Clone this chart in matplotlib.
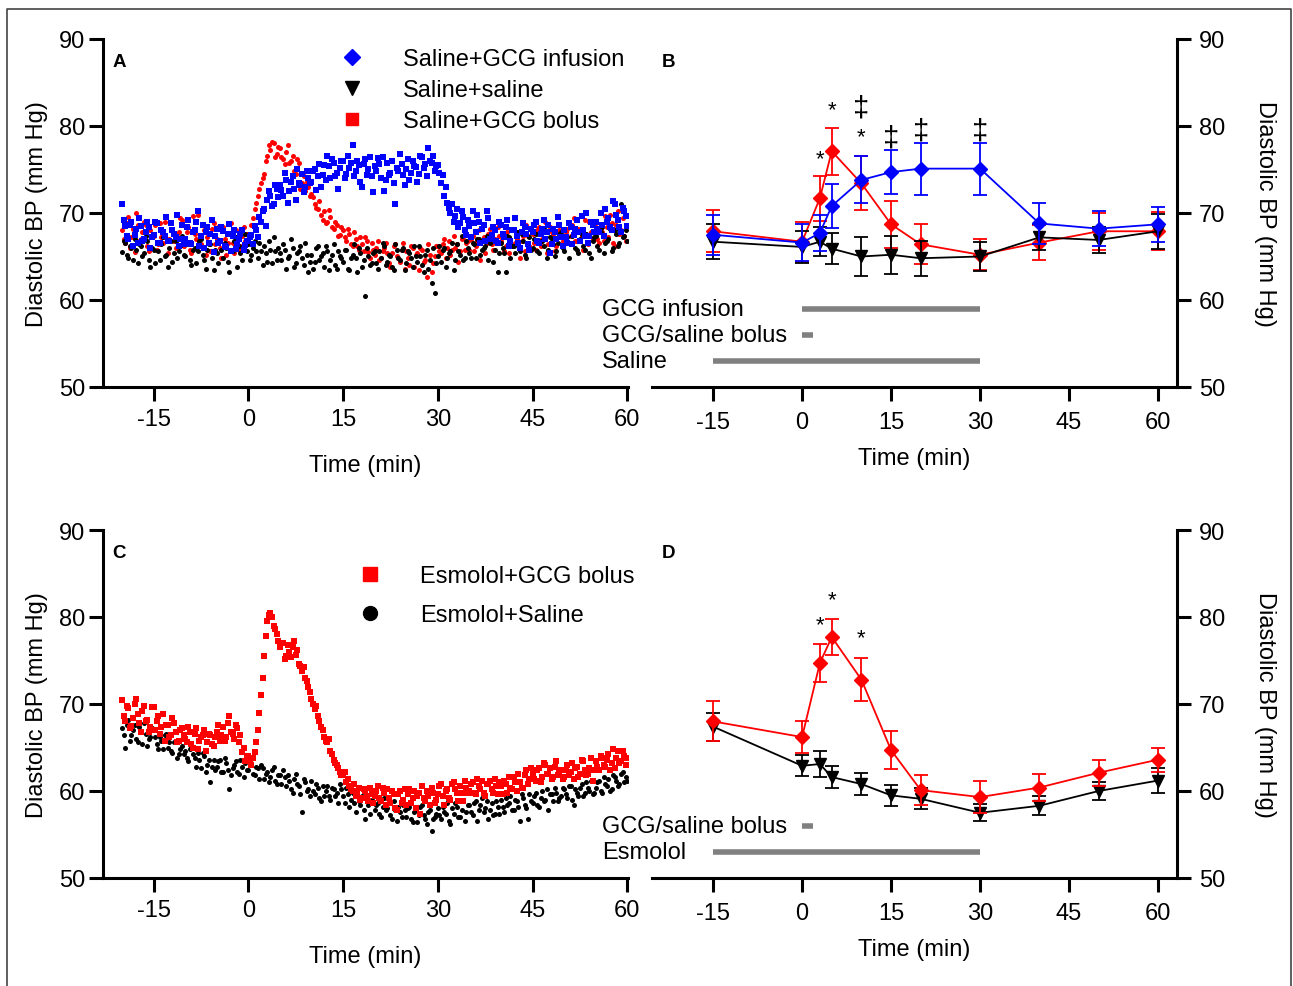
import numpy as np
import matplotlib
matplotlib.use("Agg")
import matplotlib.pyplot as plt
from matplotlib.lines import Line2D

plt.rcParams['font.family'] = ['Liberation Sans', 'DejaVu Sans']
plt.rcParams['axes.unicode_minus'] = False

# ---- continuous recordings: readings on the half minute (-20..60) and in between (-19.75..59.75) ----
t_scan = np.arange(-20, 60.25, 0.5)
t_scan2 = np.arange(-19.75, 60, 0.5)

# Panel A
a_gcg_infusion = [
    71.0, 68.5, 67.0, 69.0, 67.5, 66.5, 68.5, 67.0, 69.0, 66.0,
    67.5, 68.8, 66.5, 67.8, 69.5, 66.8, 68.0, 67.2, 66.2, 68.6,
    67.0, 69.2, 66.4, 68.1, 70.2, 67.3, 66.0, 68.4, 67.6, 65.5,
    68.2, 66.8, 67.9, 66.1, 68.7, 67.4, 65.9, 67.0, 68.0, 66.3,
    66.8, 67.5, 68.5, 67.2, 69.0, 70.5, 71.5, 72.0, 71.0, 72.8,
    73.2, 72.0, 73.8, 72.5, 74.2, 71.5, 73.5, 74.5, 73.0, 74.0,
    73.6, 75.0, 74.2, 73.0, 75.5, 76.5, 74.0, 75.8, 74.6, 75.2,
    76.0, 74.5, 75.2, 77.8, 74.8, 75.5, 73.0, 76.2, 75.0, 74.3,
    75.4, 76.3, 74.0, 72.5, 75.8, 74.6, 73.5, 75.2, 76.8, 74.4,
    75.0, 73.8, 76.0, 75.3, 74.5, 76.4, 75.6, 77.5, 75.8, 74.8,
    75.5, 73.5, 72.0, 71.2, 70.0, 69.0, 70.5, 68.8, 69.5, 67.5,
    68.5, 70.2, 67.8, 69.0, 68.2, 66.8, 69.4, 67.5, 68.0, 66.5,
    68.6, 67.2, 69.2, 66.8, 68.0, 67.4, 66.0, 68.8, 67.6, 65.8,
    67.8, 69.0, 66.5, 68.2, 67.0, 68.6, 66.4, 67.8, 69.5, 67.2,
    68.0, 66.6, 68.4, 67.5, 69.2, 66.8, 68.0, 70.0, 67.4, 68.6,
    69.0, 67.8, 68.6, 70.5, 69.4, 68.0, 71.0, 69.2, 67.8, 70.2,
    68.5]
a_gcg_infusion2 = [
    69.2, 67.4, 68.6, 66.2, 68.2, 69.4, 66.8, 67.8, 68.4, 67.2,
    69.0, 66.6, 68.0, 67.4, 66.8, 68.8, 67.6, 69.8, 67.0, 66.4,
    68.4, 66.6, 67.8, 69.0, 66.2, 68.6, 67.8, 66.6, 69.2, 67.4,
    66.6, 68.4, 66.2, 67.6, 65.6, 68.0, 66.4, 67.6, 65.8, 66.8,
    67.2, 66.4, 68.0, 69.5, 70.2, 68.5, 72.5, 70.8, 73.2, 71.8,
    72.6, 74.6, 71.2, 73.6, 72.8, 75.0, 73.2, 72.4, 74.8, 73.4,
    74.8, 72.6, 75.6, 74.4, 73.8, 75.4, 76.2, 74.2, 72.8, 76.0,
    74.0, 76.6, 75.8, 74.2, 76.0, 73.6, 75.6, 74.4, 76.4, 72.4,
    74.8, 75.6, 76.4, 73.8, 74.4, 76.0, 71.0, 74.8, 75.6, 73.2,
    76.2, 74.6, 75.4, 73.6, 76.6, 75.2, 74.2, 76.0, 76.6, 75.4,
    74.6, 74.4, 73.0, 70.6, 71.0, 69.6, 68.4, 70.2, 68.0, 69.2,
    67.2, 68.8, 69.8, 66.6, 68.6, 70.2, 67.0, 68.4, 66.8, 69.0,
    67.6, 68.4, 66.2, 68.0, 69.4, 66.6, 67.8, 68.4, 66.4, 68.2,
    68.6, 66.8, 67.6, 69.2, 67.8, 65.4, 68.2, 67.0, 68.6, 66.2,
    67.2, 68.8, 66.4, 68.2, 67.8, 69.6, 67.4, 66.6, 69.0, 67.8,
    68.2, 70.0, 67.4, 69.0, 68.4, 71.4, 69.8, 68.4, 70.6, 69.6]

a_gcg_bolus = [
    68.0, 66.5, 69.5, 67.2, 65.5, 68.6, 67.0, 69.0, 66.2, 68.0,
    67.4, 65.8, 68.8, 66.6, 69.6, 67.0, 68.2, 66.0, 67.8, 69.2,
    66.8, 68.4, 65.4, 67.6, 69.8, 66.4, 68.0, 67.2, 65.6, 68.8,
    67.0, 66.0, 68.4, 65.2, 67.6, 66.6, 68.0, 65.8, 67.4, 66.8,
    67.5, 68.6, 70.5, 72.0, 73.5, 74.5, 76.5, 77.2, 78.0, 76.8,
    77.5, 76.2, 77.0, 75.8, 76.5, 74.5, 75.8, 73.5, 72.5, 73.0,
    72.2, 71.0, 70.5, 69.8, 70.2, 69.0, 69.5, 68.2, 68.6, 67.5,
    68.0, 66.8, 67.6, 66.2, 67.0, 65.8, 66.4, 67.2, 65.5, 66.6,
    65.2, 66.8, 64.8, 66.0, 65.4, 63.8, 66.2, 65.0, 64.4, 66.6,
    65.6, 64.0, 66.0, 65.2, 63.5, 65.8, 64.6, 66.4, 63.2, 65.0,
    66.2, 65.4, 67.0, 66.0, 65.2, 67.4, 66.4, 65.6, 67.2, 66.6,
    65.8, 67.4, 66.2, 68.0, 66.8, 65.4, 67.6, 66.4, 67.0, 68.4,
    66.8, 65.6, 67.8, 66.4, 68.2, 67.0, 64.8, 67.4, 68.6, 66.2,
    67.6, 65.8, 68.4, 67.0, 69.0, 66.4, 67.8, 65.6, 68.6, 67.2,
    66.4, 68.2, 67.4, 69.4, 66.8, 68.0, 65.8, 67.6, 69.0, 67.0,
    68.4, 66.6, 67.8, 69.6, 67.2, 68.8, 66.2, 70.2, 68.0, 67.4,
    68.6]
a_gcg_bolus2 = [
    67.0, 68.8, 66.0, 68.2, 70.0, 66.8, 67.8, 68.6, 65.6, 67.4,
    68.6, 66.4, 67.2, 69.0, 65.4, 68.2, 66.8, 67.6, 69.4, 66.2,
    67.8, 65.8, 69.6, 67.0, 66.6, 68.6, 65.2, 67.6, 68.2, 66.4,
    68.4, 64.8, 67.0, 66.6, 68.8, 65.4, 67.2, 66.2, 68.4, 67.6,
    66.6, 69.4, 71.2, 72.8, 74.0, 76.0, 77.8, 78.2, 76.4, 77.6,
    76.4, 75.6, 77.8, 76.0, 74.8, 76.2, 72.8, 74.2, 73.6, 72.0,
    71.8, 70.6, 71.4, 69.2, 68.8, 70.4, 68.4, 69.0, 67.4, 68.4,
    67.2, 68.2, 66.4, 67.8, 66.2, 67.2, 65.6, 66.8, 64.8, 65.8,
    66.0, 64.6, 65.6, 66.6, 64.2, 65.4, 66.4, 64.8, 65.8, 63.6,
    64.8, 66.2, 63.8, 65.4, 66.0, 64.4, 62.6, 65.2, 64.2, 66.2,
    65.6, 66.4, 64.8, 66.8, 65.8, 66.0, 64.4, 67.0, 65.8, 66.8,
    67.0, 65.6, 66.8, 64.6, 67.2, 66.6, 68.2, 65.8, 66.8, 67.4,
    67.6, 66.2, 65.4, 68.0, 66.6, 67.8, 66.8, 65.6, 67.4, 68.2,
    66.6, 68.0, 66.2, 67.8, 65.4, 68.4, 67.6, 66.2, 68.0, 66.8,
    67.8, 66.6, 68.6, 66.8, 68.2, 67.4, 69.2, 66.4, 67.8, 68.6,
    67.0, 68.2, 66.8, 68.4, 69.8, 66.6, 68.6, 67.6, 69.4, 66.8]

a_saline = [
    65.5, 66.5, 64.8, 66.0, 67.0, 64.2, 66.2, 65.4, 66.8, 63.8,
    65.8, 66.6, 64.6, 67.2, 65.2, 66.0, 64.4, 66.8, 65.6, 67.4,
    65.0, 66.4, 64.0, 66.0, 65.6, 67.0, 64.6, 65.8, 66.4, 63.4,
    65.4, 66.8, 64.8, 66.0, 63.2, 65.6, 67.2, 66.2, 64.6, 67.6,
    66.4, 65.2, 66.8, 64.8, 65.6, 66.2, 64.4, 65.8, 67.2, 64.6,
    65.4, 66.4, 63.6, 65.0, 66.0, 64.2, 65.6, 64.8, 66.6, 63.2,
    65.2, 64.4, 66.2, 65.0, 63.8, 65.6, 64.6, 66.4, 63.6, 65.0,
    64.4, 65.8, 63.4, 65.2, 64.8, 66.0, 63.8, 60.5, 65.0, 64.2,
    65.6, 63.6, 64.8, 66.2, 64.4, 65.0, 63.4, 65.8, 64.6, 66.0,
    64.2, 65.4, 63.8, 65.0, 66.2, 64.0, 65.2, 63.6, 62.0, 60.8,
    65.0, 64.4, 66.0, 64.8, 65.6, 63.4, 66.4, 65.2, 64.6, 66.8,
    65.4, 66.6, 64.8, 67.0, 65.8, 66.2, 64.6, 67.2, 65.8, 63.2,
    66.6, 65.4, 67.4, 64.8, 66.2, 67.8, 65.6, 66.8, 64.8, 67.2,
    66.0, 67.6, 65.4, 66.8, 68.0, 65.8, 67.0, 65.0, 66.6, 67.8,
    65.6, 67.2, 66.4, 68.2, 65.8, 67.0, 66.2, 67.6, 65.4, 66.8,
    67.4, 65.8, 68.4, 66.6, 67.0, 65.6, 68.0, 66.2, 71.0, 67.4,
    66.8]
a_saline2 = [
    66.8, 65.2, 66.2, 64.6, 65.8, 66.4, 65.0, 67.4, 64.6, 66.0,
    64.2, 65.6, 66.4, 65.0, 63.8, 66.8, 65.4, 64.8, 66.2, 65.2,
    66.6, 64.6, 65.8, 64.2, 66.8, 65.2, 63.6, 66.4, 64.8, 65.8,
    64.2, 65.8, 66.6, 64.4, 65.8, 66.8, 63.8, 65.4, 66.4, 65.6,
    64.6, 66.0, 65.6, 66.6, 64.0, 65.4, 66.8, 64.2, 65.6, 66.0,
    64.6, 65.8, 64.8, 67.0, 63.8, 65.4, 66.2, 64.0, 65.2, 64.4,
    63.6, 66.0, 64.6, 65.4, 66.2, 63.4, 65.2, 64.0, 65.6, 64.8,
    65.8, 63.6, 64.8, 66.4, 63.2, 65.4, 64.6, 66.0, 64.0, 65.4,
    64.2, 65.6, 66.6, 64.0, 65.2, 63.8, 66.4, 64.8, 65.8, 63.4,
    65.6, 64.8, 66.2, 64.4, 65.0, 63.2, 65.8, 64.6, 66.0, 64.2,
    66.2, 65.8, 63.8, 65.4, 66.6, 64.6, 65.6, 67.4, 64.8, 66.0,
    64.8, 66.4, 67.0, 65.2, 66.0, 67.4, 66.6, 64.4, 66.8, 65.4,
    66.0, 63.2, 67.2, 66.2, 65.4, 66.6, 67.6, 65.2, 66.4, 65.8,
    67.0, 65.6, 66.8, 66.2, 64.8, 67.2, 66.4, 65.6, 67.6, 66.0,
    66.6, 64.8, 67.4, 66.0, 65.4, 67.6, 65.8, 66.6, 64.8, 67.2,
    66.2, 67.8, 65.4, 66.8, 68.2, 66.0, 67.6, 66.6, 67.2, 68.0]

# Panel C
c_gcg_bolus = [
    70.5, 68.0, 69.5, 67.5, 70.0, 68.8, 66.8, 69.8, 68.2, 67.4,
    69.6, 68.0, 66.6, 68.8, 67.6, 66.2, 68.4, 66.8, 65.8, 67.2,
    66.0, 67.4, 65.4, 66.6, 64.8, 66.2, 67.0, 65.6, 66.4, 65.2,
    66.8, 65.8, 67.4, 66.2, 68.6, 66.6, 67.6, 65.6, 64.5, 63.5,
    64.0, 63.0, 64.5, 67.0, 71.0, 75.5, 79.5, 80.5, 79.0, 78.0,
    76.5, 77.0, 75.5, 76.0, 76.6, 75.6, 74.6, 73.8, 73.0, 72.0,
    70.6, 69.4, 68.6, 67.4, 66.2, 65.6, 64.6, 63.6, 63.0, 62.2,
    61.8, 61.0, 60.6, 60.0, 59.4, 60.4, 59.2, 60.0, 58.8, 59.6,
    59.4, 60.6, 58.8, 59.8, 60.2, 58.6, 59.6, 57.8, 60.0, 59.0,
    58.4, 60.2, 59.2, 58.0, 59.8, 60.6, 58.8, 59.4, 60.4, 58.6,
    59.6, 60.8, 58.4, 60.2, 59.0, 61.0, 59.8, 60.6, 58.8, 60.4,
    60.0, 61.0, 59.6, 60.6, 61.2, 59.4, 60.8, 60.2, 61.4, 59.6,
    60.6, 61.2, 59.8, 60.4, 61.6, 60.0, 61.0, 60.4, 62.4, 61.4,
    62.0, 61.2, 62.6, 61.6, 63.0, 62.0, 61.4, 62.8, 61.8, 62.4,
    61.6, 63.0, 62.2, 61.4, 62.8, 62.0, 63.4, 61.8, 62.6, 61.2,
    63.4, 62.4, 63.8, 62.8, 64.2, 63.2, 62.6, 64.6, 63.4, 64.0,
    63.8]
c_gcg_bolus2 = [
    68.6, 69.8, 67.2, 68.4, 70.6, 67.8, 69.2, 68.0, 66.8, 69.6,
    67.0, 68.6, 67.4, 65.8, 67.6, 66.4, 67.8, 65.6, 67.0, 66.4,
    65.6, 66.8, 65.0, 67.2, 65.8, 66.4, 64.6, 66.6, 65.4, 66.2,
    67.6, 66.4, 65.8, 67.8, 66.8, 66.0, 67.2, 66.4, 65.0, 64.0,
    63.4, 63.8, 65.6, 69.0, 73.0, 77.8, 80.2, 80.0, 78.6, 77.2,
    77.0, 75.2, 76.8, 75.4, 77.2, 76.2, 74.4, 74.2, 72.6, 71.4,
    70.0, 69.8, 68.0, 67.0, 65.8, 66.0, 64.2, 63.2, 62.6, 61.8,
    62.2, 61.4, 60.2, 60.8, 59.8, 59.0, 60.2, 59.4, 60.4, 58.6,
    60.0, 59.2, 60.4, 58.4, 59.2, 60.0, 58.0, 59.6, 58.6, 60.2,
    59.6, 58.6, 60.0, 59.4, 57.4, 59.2, 60.0, 58.4, 59.8, 59.0,
    60.6, 59.4, 60.0, 59.2, 60.8, 60.2, 58.8, 59.8, 61.2, 59.8,
    60.8, 59.8, 61.4, 60.2, 59.8, 60.8, 61.2, 59.8, 60.6, 61.0,
    59.6, 60.8, 61.6, 60.2, 61.0, 62.0, 60.4, 61.8, 60.8, 62.6,
    61.4, 62.4, 61.0, 63.2, 62.0, 62.6, 61.6, 63.4, 62.2, 61.4,
    62.4, 61.8, 63.2, 62.6, 61.6, 63.6, 62.4, 62.0, 63.8, 62.4,
    62.8, 64.0, 63.0, 63.6, 62.4, 64.8, 63.8, 63.2, 64.6, 63.0]

c_saline = [
    67.2, 65.0, 68.2, 66.4, 67.6, 65.6, 66.8, 67.8, 65.2, 66.2,
    67.0, 65.4, 66.2, 64.8, 66.6, 65.6, 64.4, 65.8, 64.2, 65.2,
    64.6, 63.4, 65.0, 63.8, 64.4, 62.6, 64.0, 63.0, 61.0, 63.6,
    62.8, 63.6, 62.2, 63.2, 60.2, 62.6, 63.4, 62.0, 62.8, 63.2,
    62.4, 63.2, 61.8, 62.6, 63.0, 61.4, 62.2, 61.6, 62.8, 60.8,
    61.8, 62.4, 60.6, 61.2, 59.8, 62.0, 60.6, 57.6, 61.0, 60.2,
    61.2, 59.6, 60.4, 58.8, 59.4, 60.6, 59.0, 60.2, 59.8, 60.8,
    59.4, 60.4, 58.2, 59.8, 57.6, 58.8, 59.4, 56.8, 58.4, 59.0,
    57.8, 58.6, 57.0, 59.2, 58.0, 57.2, 58.8, 56.6, 57.6, 58.4,
    57.0, 58.2, 56.4, 57.8, 57.2, 58.4, 56.8, 57.6, 55.4, 57.0,
    58.0, 56.8, 57.6, 58.6, 56.2, 57.4, 58.2, 57.0, 58.8, 57.6,
    58.4, 57.2, 58.8, 57.8, 59.2, 58.0, 56.8, 58.6, 57.4, 58.2,
    59.0, 57.6, 58.4, 59.4, 57.8, 58.8, 56.6, 59.2, 58.0, 59.6,
    58.6, 59.8, 58.2, 60.0, 59.0, 57.8, 59.6, 60.4, 58.8, 59.4,
    60.2, 59.2, 60.6, 58.4, 59.8, 60.4, 59.4, 61.0, 60.0, 59.6,
    60.4, 61.2, 59.8, 60.8, 61.4, 60.2, 61.6, 60.6, 62.0, 61.0,
    61.2]
c_saline2 = [
    66.4, 67.6, 65.8, 67.0, 66.0, 67.4, 65.4, 66.6, 66.0, 67.2,
    66.2, 64.8, 65.8, 66.4, 65.0, 64.6, 65.6, 63.8, 64.8, 64.2,
    63.8, 64.8, 64.2, 62.8, 63.6, 64.4, 62.2, 63.6, 62.8, 62.4,
    63.4, 62.2, 63.8, 62.4, 61.8, 63.0, 62.2, 63.6, 61.6, 62.4,
    63.0, 62.0, 62.8, 61.4, 62.6, 62.0, 61.0, 62.4, 61.2, 61.8,
    60.8, 61.6, 61.8, 60.2, 61.4, 60.8, 59.6, 61.4, 60.0, 59.4,
    60.0, 60.8, 59.2, 60.6, 60.0, 59.4, 60.4, 59.4, 58.6, 60.2,
    58.6, 59.6, 59.0, 58.6, 59.8, 58.4, 57.8, 59.2, 57.4, 58.6,
    58.4, 57.4, 58.2, 57.8, 58.6, 56.8, 57.8, 58.2, 57.0, 57.8,
    58.0, 56.8, 57.6, 56.4, 58.2, 57.2, 56.2, 57.8, 56.8, 57.4,
    57.2, 58.2, 57.4, 56.6, 58.0, 58.6, 57.0, 57.8, 56.6, 58.4,
    57.6, 58.6, 56.6, 58.4, 57.6, 58.8, 57.8, 57.2, 58.8, 57.4,
    58.2, 59.2, 58.6, 57.8, 59.0, 58.2, 59.6, 58.4, 56.8, 58.8,
    59.4, 58.4, 59.2, 58.8, 60.2, 59.6, 58.8, 59.8, 59.2, 60.4,
    59.6, 60.6, 59.0, 60.2, 59.4, 60.8, 59.8, 60.4, 61.2, 59.8,
    61.0, 60.0, 61.6, 60.6, 60.0, 61.8, 61.2, 60.8, 62.2, 61.6]

# ---- Panels B and D: group means +/- SEM ----
t_mean = [-15, 0, 3, 5, 10, 15, 20, 30, 40, 50, 60]

b_infusion = [67.5, 66.6, 67.7, 70.8, 73.8, 74.7, 75.1, 75.1, 68.8, 68.2, 68.7]
b_infusion_err = [2.3, 2.1, 2.1, 2.5, 2.7, 2.5, 3.0, 3.0, 2.4, 2.0, 2.0]
b_bolus = [67.9, 66.7, 71.7, 77.1, 73.4, 68.7, 66.4, 65.2, 66.6, 67.9, 67.9]
b_bolus_err = [2.4, 2.3, 2.6, 2.7, 3.1, 2.7, 2.3, 1.8, 2.0, 2.1, 2.2]
b_saline = [66.7, 66.1, 66.7, 65.9, 65.0, 65.2, 64.8, 65.0, 67.2, 66.9, 67.9]
b_saline_err = [2.0, 1.8, 1.7, 1.8, 2.2, 2.2, 2.0, 1.7, 1.5, 1.5, 2.0]

d_bolus = [68.0, 66.2, 74.7, 77.7, 72.8, 64.7, 60.1, 59.3, 60.4, 62.1, 63.6]
d_bolus_err = [2.3, 1.8, 2.2, 2.1, 2.5, 2.2, 1.7, 1.8, 1.6, 1.5, 1.4]
d_saline = [67.4, 62.9, 63.1, 61.6, 60.8, 59.5, 59.1, 57.5, 58.3, 60.0, 61.2]
d_saline_err = [1.6, 1.2, 1.5, 1.3, 1.3, 1.2, 1.2, 1.0, 1.1, 1.0, 1.4]

# significance marks (time, symbol, level)
sig_b_time = [3, 5, 10, 10, 15, 20, 30]
sig_b_mark = ['*', '*', '*', '‡', '‡', '‡', '‡']
sig_b_level = [76.3, 81.9, 78.8, 82.1, 78.7, 79.5, 79.5]
sig_d_time = [3, 5, 10]
sig_d_mark = ['*', '*', '*']
sig_d_level = [79.1, 82.0, 77.6]

# treatment periods
bar_b_labels = ['GCG infusion', 'GCG/saline bolus', 'Saline']
bar_b_start = [0, 0, -15]
bar_b_end = [30, 1.8, 30]
bar_b_level = [59, 56, 53]
bar_d_labels = ['GCG/saline bolus', 'Esmolol']
bar_d_start = [0, -15]
bar_d_end = [1.8, 30]
bar_d_level = [56, 53]

FS = 17
W, H = 1293, 987
fig = plt.figure(figsize=(W / 100, H / 100), dpi=100)

# outer frame
fig.add_artist(Line2D([7 / W, 7 / W, 1291 / W, 1291 / W], [0, 1 - 10 / H, 1 - 10 / H, 0],
                      transform=fig.transFigure, color='#444444', lw=1.2))


def px_axes(x0, y0, x1, y1):
    return fig.add_axes([x0 / W, 1 - y1 / H, (x1 - x0) / W, (y1 - y0) / H])


ax_a = px_axes(103, 40, 628, 388)
ax_b = px_axes(652, 40, 1177, 388)
ax_c = px_axes(103, 531, 628, 879)
ax_d = px_axes(652, 531, 1177, 879)


def style(ax, side, xlim, lab_y):
    ax.set_xlim(*xlim)
    ax.set_ylim(50, 90)
    ax.set_xticks([-15, 0, 15, 30, 45, 60])
    ax.set_yticks([50, 60, 70, 80, 90])
    for s in ['top', 'left', 'right']:
        ax.spines[s].set_visible(False)
    ax.spines[side].set_visible(True)
    for s in ['bottom', side]:
        ax.spines[s].set_linewidth(2.2)
    ax.tick_params(width=2.2, length=10, labelsize=FS, direction='out')
    ax.set_xlabel('Time (min)', fontsize=FS, va='center')
    ax.xaxis.set_label_coords(0.5, lab_y)
    if side == 'right':
        ax.yaxis.tick_right()
        ax.yaxis.set_label_position('right')
        ax.tick_params(axis='y', pad=6)
        ax.tick_params(axis='x', pad=7)
        ax.set_ylabel('Diastolic BP (mm Hg)', fontsize=FS, rotation=270, va='center')
        ax.yaxis.set_label_coords(1.168, 0.5)
    else:
        ax.tick_params(axis='y', pad=3)
        ax.tick_params(axis='x', pad=5)
        ax.set_ylabel('Diastolic BP (mm Hg)', fontsize=FS, va='center')
        ax.yaxis.set_label_coords(-0.126, 0.5)


style(ax_a, 'left', (-23, 60.1), -0.224)
style(ax_c, 'left', (-23, 60.1), -0.224)
style(ax_b, 'right', (-25.3, 63.2), -0.204)
style(ax_d, 'right', (-25.3, 63.2), -0.204)

t_all = np.concatenate([t_scan, t_scan2])

# Panel A scatter
ax_a.scatter(t_all, a_gcg_bolus + a_gcg_bolus2, s=13, marker='o', color='red', lw=0, zorder=2)
ax_a.scatter(t_all, a_saline + a_saline2, s=13, marker='o', color='black', lw=0, zorder=3)
ax_a.scatter(t_all, a_gcg_infusion + a_gcg_infusion2, s=18, marker='s', color='blue', lw=0, zorder=4)
hA = [Line2D([], [], marker='D', color='blue', ls='none', markersize=8.5),
      Line2D([], [], marker='v', color='black', ls='none', markersize=10),
      Line2D([], [], marker='s', color='red', ls='none', markersize=9)]
ax_a.legend(hA, ['Saline+GCG infusion', 'Saline+saline', 'Saline+GCG bolus'],
            loc='upper left', bbox_to_anchor=(0.451, 0.974), frameon=False, fontsize=FS,
            handlelength=1.0, handletextpad=1.66, labelspacing=0.39, borderpad=0, borderaxespad=0)

# Panel C scatter
ax_c.scatter(t_all, c_saline + c_saline2, s=13, marker='o', color='black', lw=0, zorder=2)
ax_c.scatter(t_all, c_gcg_bolus + c_gcg_bolus2, s=22, marker='s', color='red', lw=0, zorder=3)
hC = [Line2D([], [], marker='s', color='red', ls='none', markersize=10),
      Line2D([], [], marker='o', color='black', ls='none', markersize=10)]
ax_c.legend(hC, ['Esmolol+GCG bolus', 'Esmolol+Saline'],
            loc='upper left', bbox_to_anchor=(0.486, 0.898), frameon=False, fontsize=FS,
            handlelength=1.0, handletextpad=1.62, labelspacing=0.72, borderpad=0, borderaxespad=0)


def mean_series(ax, y, err, color, marker, ms, z):
    ax.errorbar(t_mean, y, yerr=err, color=color, marker=marker, markersize=ms, lw=1.3,
                elinewidth=1.3, capsize=5, capthick=1.3, zorder=z, clip_on=False)


mean_series(ax_b, b_bolus, b_bolus_err, 'red', 'D', 7, 3)
mean_series(ax_b, b_saline, b_saline_err, 'black', 'v', 8.5, 4)
mean_series(ax_b, b_infusion, b_infusion_err, 'blue', 'D', 7, 5)
mean_series(ax_d, d_saline, d_saline_err, 'black', 'v', 8.5, 3)
mean_series(ax_d, d_bolus, d_bolus_err, 'red', 'D', 7, 4)

for ax, tt, mm, ll in [(ax_b, sig_b_time, sig_b_mark, sig_b_level),
                       (ax_d, sig_d_time, sig_d_mark, sig_d_level)]:
    for t, m, lv in zip(tt, mm, ll):
        ax.text(t, lv, m, ha='center', va='center', fontsize=21 if m == '‡' else 16)

for ax, labs, st, en, lv in [(ax_b, bar_b_labels, bar_b_start, bar_b_end, bar_b_level),
                             (ax_d, bar_d_labels, bar_d_start, bar_d_end, bar_d_level)]:
    ax.hlines(lv, st, en, color='#808080', lw=4)
    tr = ax.get_yaxis_transform()
    for lab, v in zip(labs, lv):
        ax.text(-0.095, v, lab, transform=tr, ha='left', va='center', fontsize=FS, clip_on=False)

for ax, letter in [(ax_a, 'A'), (ax_b, 'B'), (ax_c, 'C'), (ax_d, 'D')]:
    ax.text(0.018, 0.935, letter, transform=ax.transAxes, fontsize=13.5, fontweight='bold',
            ha='left', va='center')

fig.savefig('out.png', dpi=100)
